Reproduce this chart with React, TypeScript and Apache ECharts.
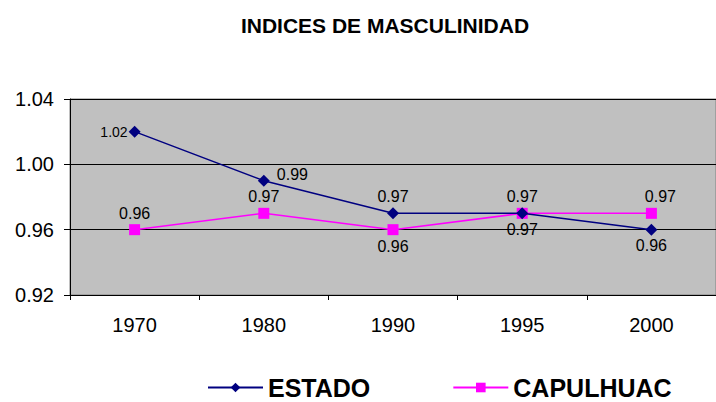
import React, { useEffect, useRef } from "react";
import * as echarts from "echarts";

const title = "INDICES DE MASCULINIDAD";
const categories = ["1970", "1980", "1990", "1995", "2000"];
const estado = [1.02, 0.99, 0.97, 0.97, 0.96];
const capulhuac = [0.96, 0.97, 0.96, 0.97, 0.97];
const seriesNames = ["ESTADO", "CAPULHUAC"];

const FONT = "Liberation Sans, Arial, sans-serif";

export default function App() {
  const ref = useRef<HTMLDivElement>(null);
  useEffect(() => {
    if (!ref.current) return;
    const chart = echarts.init(ref.current, undefined, { renderer: "svg" });
    const estadoLabelPos: any[] = [
      { position: "left", distance: 1, offset: [0, 0], fontSize: 14, letterSpacing: -0.5 },
      { position: "right", distance: 7, offset: [0, -6] },
      { position: "top", distance: 3, offset: [0, 0] },
      { position: "bottom", distance: 2, offset: [0, 0] },
      { position: "bottom", distance: 2, offset: [0, 0] },
    ];
    const capLabelPos: any[] = [
      { position: "top", distance: 3, offset: [0, 0] },
      { position: "top", distance: 3, offset: [0, 0] },
      { position: "bottom", distance: 3, offset: [0, 0] },
      { position: "top", distance: 3, offset: [0, 0] },
      { position: "top", distance: 3, offset: [9, 0] },
    ];
    const labelBase = {
      show: true,
      fontFamily: FONT,
      fontSize: 16,
      color: "#000",
      formatter: (p: any) => Number(p.value).toFixed(2),
    };
    chart.setOption({
      animation: false,
      backgroundColor: "#fff",
      title: {
        text: title,
        left: 380,
        textAlign: "center",
        top: 8,
        textStyle: {
          fontFamily: FONT,
          fontWeight: "bold",
          fontSize: 21,
          lineHeight: 24,
          color: "#000",
        },
      },
      legend: {
        left: 207,
        top: 375,
        padding: 0,
        itemWidth: 55,
        itemHeight: 12,
        itemGap: 82,
        textStyle: {
          fontFamily: FONT,
          fontWeight: "bold",
          fontSize: 25,
          lineHeight: 25,
          color: "#000",
        },
        data: seriesNames,
      },
      grid: {
        left: 70,
        top: 99,
        width: 658,
        height: 196,
        show: true,
        backgroundColor: "#C0C0C0",
        borderColor: "#808080",
        borderWidth: 1,
      },
      xAxis: {
        type: "category",
        data: categories,
        boundaryGap: true,
        axisLine: { lineStyle: { color: "#000", width: 1 } },
        axisTick: { show: true, length: 5, alignWithLabel: false, lineStyle: { color: "#000" } },
        axisLabel: {
          margin: 20,
          fontFamily: FONT,
          fontSize: 20,
          color: "#000",
        },
        splitLine: { show: false },
      },
      yAxis: {
        type: "value",
        min: 0.92,
        max: 1.04,
        interval: 0.04,
        axisLine: { show: true, lineStyle: { color: "#000", width: 1 } },
        axisTick: { show: true, length: 6, lineStyle: { color: "#000" } },
        axisLabel: {
          margin: 16,
          fontFamily: FONT,
          fontSize: 20,
          color: "#000",
          formatter: (v: number) => v.toFixed(2),
        },
        splitLine: { show: true, lineStyle: { color: "#000", width: 1 } },
      },
      series: [
        {
          name: seriesNames[0],
          type: "line",
          data: estado.map((v, i) => ({ value: v, label: estadoLabelPos[i] })),
          symbol: "diamond",
          symbolSize: 12,
          itemStyle: { color: "#000080" },
          lineStyle: { color: "#000080", width: 1.5 },
          label: labelBase,
          z: 3,
        },
        {
          name: seriesNames[1],
          type: "line",
          data: capulhuac.map((v, i) => ({ value: v, label: capLabelPos[i] })),
          symbol: "rect",
          symbolSize: 11,
          itemStyle: { color: "#FF00FF" },
          lineStyle: { color: "#FF00FF", width: 1.5 },
          label: labelBase,
          z: 2,
        },
      ],
    });
    return () => chart.dispose();
  }, []);
  return (
    <div
      ref={ref}
      style={{ position: "fixed", left: 0, top: 0, width: 716, height: 402 }}
    />
  );
}
